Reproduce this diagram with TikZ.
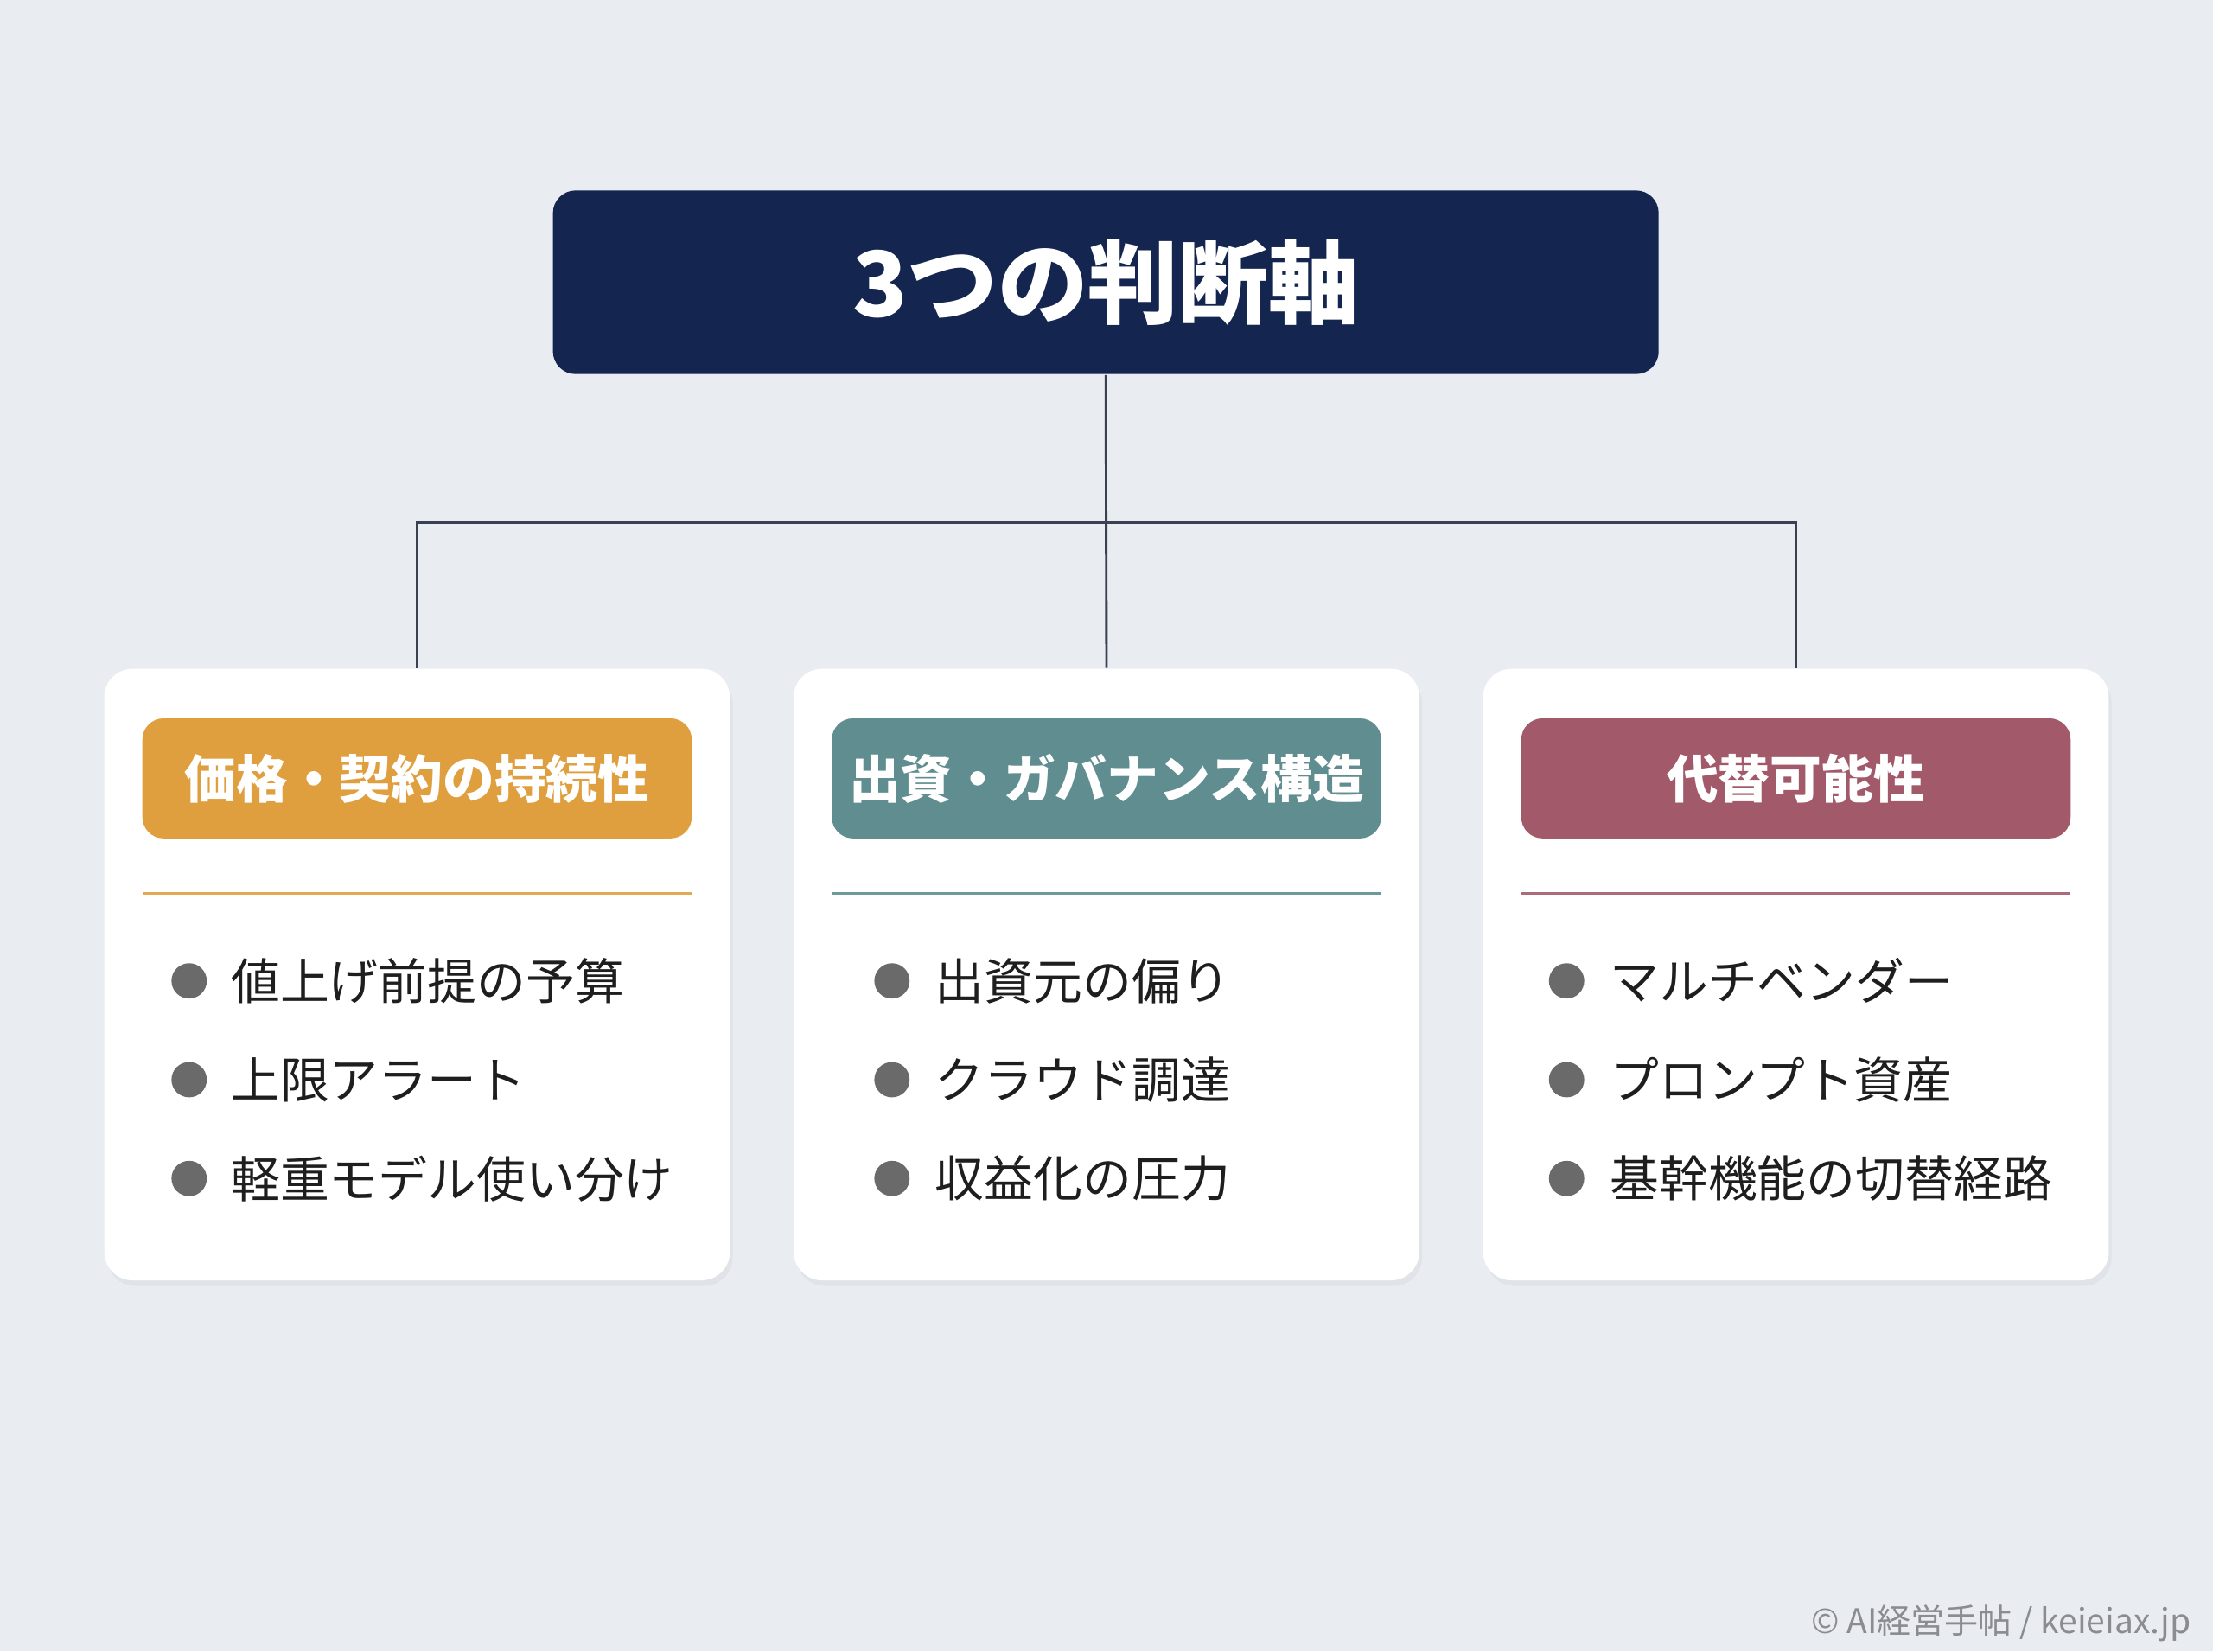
\documentclass[tikz,border=0pt]{standalone}
\usepackage{fontspec}
\setmainfont{Noto Sans CJK JP}
\usetikzlibrary{shadows}
\definecolor{bgc}{HTML}{E9EDF2}
\definecolor{navy}{HTML}{14254F}
\definecolor{orng}{HTML}{E09F3E}
\definecolor{teal2}{HTML}{5F8D90}
\definecolor{rose}{HTML}{A25A6A}
\definecolor{bul}{HTML}{6A6A6A}
\definecolor{txt}{HTML}{1E1E1E}
\definecolor{lnc}{HTML}{3A4150}
\definecolor{foot}{HTML}{8A8C90}
\tikzset{
  titlebox/.style={fill=navy, rounded corners=0.16cm, minimum width=7.83cm, minimum height=1.30cm, text=white, font=\fontsize{18.2pt}{20pt}\selectfont\bfseries, inner sep=0pt},
  card/.style={fill=white, rounded corners=0.2cm, minimum width=4.43cm, minimum height=4.33cm, inner sep=0pt, drop shadow={opacity=0.08, shadow xshift=0.02cm, shadow yshift=-0.04cm}},
  pill/.style={rounded corners=0.15cm, minimum width=3.89cm, minimum height=0.85cm, text=white, font=\fontsize{10.4pt}{12pt}\selectfont\bfseries, inner sep=0pt},
  sep/.style={line width=0.6pt},
  bullet/.style={circle, fill=bul, minimum size=0.25cm, inner sep=0pt},
  item/.style={anchor=west, text=txt, font=\fontsize{9.9pt}{12pt}\selectfont, inner sep=0pt},
  conn/.style={draw=lnc, line width=0.5pt},
}
\begin{document}
\begin{tikzpicture}[x=0.01cm, y=-0.01cm]
\fill[bgc] (0,0) rectangle (1568,1170);
\useasboundingbox (0,0) rectangle (1568,1170);

\node[titlebox] (title) at (783.5,200) {3つの判断軸};

\node[card] (c1) at (295.5,690.5) {};
\node[card] (c2) at (784,690.5) {};
\node[card] (c3) at (1272.5,690.5) {};

\coordinate (j) at (784,370);
\draw[conn] (title.south) -- (c2.north);
\draw[conn] (c1.north) |- (j) -| (c3.north);

\node[pill, fill=orng] (h1) at (295.5,551.5) {価格・契約の持続性};
\node[pill, fill=teal2] (h2) at (784,551.5) {出資・ガバナンス構造};
\node[pill, fill=rose] (h3) at (1272.5,551.5) {代替可能性};

\draw[sep, draw=orng!90] (101,633) -- (490,633);
\draw[sep, draw=teal2!90] (590,633) -- (978,633);
\draw[sep, draw=rose!90] (1078,633) -- (1467,633);

% card 1 items
\node[bullet] (b11) at (134,695) {};
\node[item] (t11) at (163,695) {値上げ前提の予算};
\node[bullet] (b12) at (134,765) {};
\node[item] (t12) at (163,765) {上限アラート};
\node[bullet] (b13) at (134,835) {};
\node[item] (t13) at (163,835) {軽重モデル使い分け};

% card 2 items
\node[bullet] (b21) at (632,695) {};
\node[item] (t21) at (662,695) {出資元の偏り};
\node[bullet] (b22) at (632,765) {};
\node[item] (t22) at (662,765) {クラウド調達};
\node[bullet] (b23) at (632,835) {};
\node[item] (t23) at (662,835) {収益化の圧力};

% card 3 items
\node[bullet] (b31) at (1110,695) {};
\node[item] (t31) at (1140,695) {マルチベンダー};
\node[bullet] (b32) at (1110,765) {};
\node[item] (t32) at (1140,765) {プロンプト資産};
\node[bullet] (b33) at (1110,835) {};
\node[item] (t33) at (1140,835) {基幹機能の切替経路};

\node[anchor=east, text=foot, font=\fontsize{6.8pt}{8pt}\selectfont, inner sep=0pt] (ft) at (1553,1150) {© AI経営手帖 / keieiax.jp};
\end{tikzpicture}
\end{document}
